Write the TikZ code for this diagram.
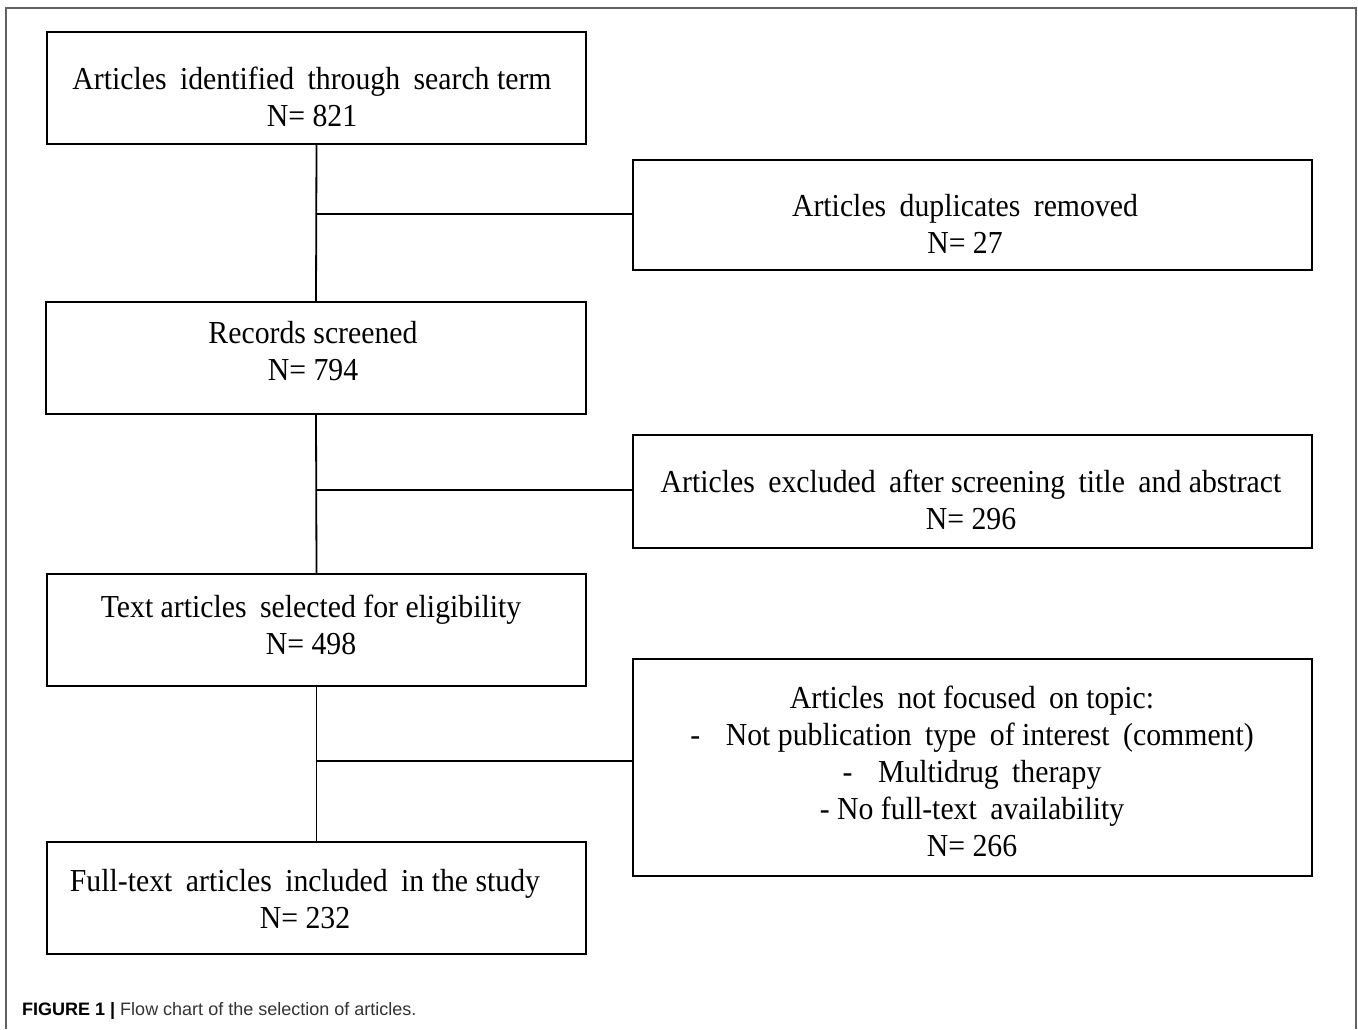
\documentclass[tikz,border=0pt]{standalone}
\usepackage{fontspec}
\setmainfont{Liberation Serif}[FakeStretch=0.93]
\newfontfamily\capfont{Liberation Sans}
\newcommand\gp{\hspace{0.42em}}
\begin{document}
\begin{tikzpicture}[x=1pt,y=-1pt,
  box/.style={draw=black, line width=1.8pt, minimum width=#1, inner sep=0pt},
  txt/.style={align=center, inner sep=0pt, font=\fontsize{32}{37}\selectfont},
  conn/.style={draw=black, line width=1.8pt},
  frame/.style={draw=black!62, line width=1.8pt}]
\useasboundingbox (0,0) rectangle (1358,1029);
\draw[frame] (6,1029) -- (6,8) -- (1356,8) -- (1356,1029);

% left column boxes
\node[box=539pt, minimum height=112pt] (b1) at (316.5,88) {};
\node[box=540pt, minimum height=112pt] (b3) at (316,358) {};
\node[box=539pt, minimum height=112pt] (b5) at (316.5,630) {};
\node[box=539pt, minimum height=112pt] (b7) at (316.5,898) {};
% right column boxes
\node[box=679pt, minimum height=110pt] (b2) at (972.5,215) {};
\node[box=679pt, minimum height=113pt] (b4) at (972.5,491.5) {};
\node[box=679pt, minimum height=217pt] (b6) at (972.5,767.5) {};

% texts
\node[txt] (t1) at (312,96.5) {Articles\gp identified\gp through\gp search term\\N= 821};
\node[txt] (t3) at (313,351.5) {Records screened\\N= 794};
\node[txt] (t5) at (311,624.5) {Text articles\gp selected for eligibility\\N= 498};
\node[txt] (t7) at (305,899.5) {Full-text\gp articles\gp included\gp in the study\\N= 232};
\node[txt] (t2) at (965,223.5) {Articles\gp duplicates\gp removed\\N= 27};
\node[txt] (t4) at (971,499.5) {Articles\gp excluded\gp after screening\gp title\gp and abstract\\N= 296};
\node[txt] (t6) at (972,771) {Articles\gp not focused\gp on topic:\\
  -\hspace{0.8em}Not publication\gp type\gp of interest\gp (comment)\\
  -\hspace{0.8em}Multidrug\gp therapy\\
  - No full-text\gp availability\\
  N= 266};

% connectors
\draw[conn] (b1.south) -- (b3.north);
\draw[conn] (b3.south) -- (b5.north);
\draw[conn] (b5.south) -- (b7.north);
\coordinate (j1) at (316,214);
\coordinate (j2) at (316,490);
\coordinate (j3) at (316,761);
\draw[conn] (j1) -- (j1 -| b2.west);
\draw[conn] (j2) -- (j2 -| b4.west);
\draw[conn] (j3) -- (j3 -| b6.west);

% caption
\node[anchor=base west, inner sep=0pt, font=\capfont\fontsize{18}{20}\selectfont] (cap) at (22,1015)
  {\textbf{FIGURE 1 |} \textcolor{black!80}{Flow chart of the selection of articles.}};
\end{tikzpicture}
\end{document}
